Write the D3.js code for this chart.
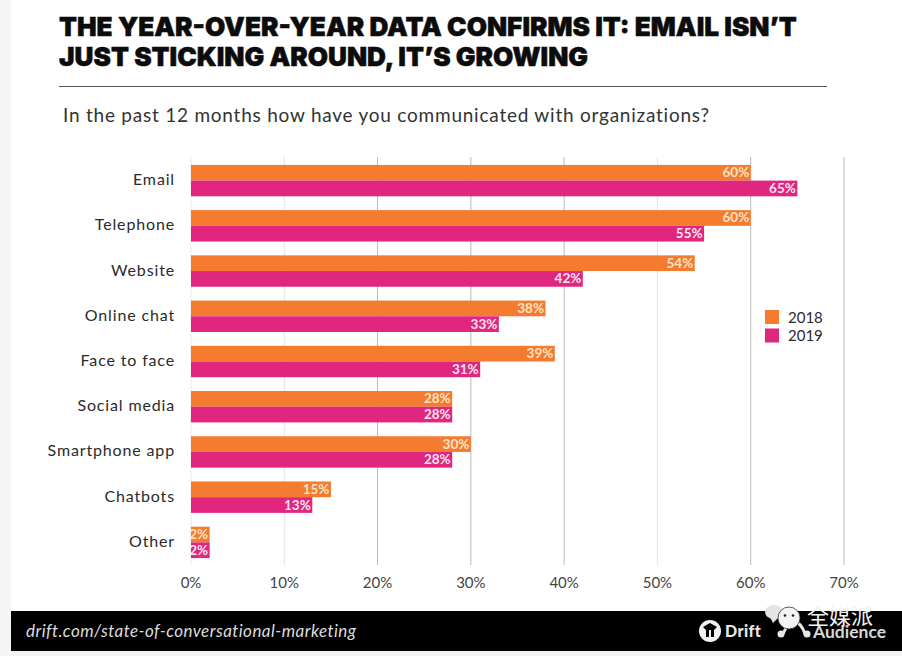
<!DOCTYPE html>
<html>
<head>
<meta charset="utf-8">
<script src="https://cdn.jsdelivr.net/npm/d3@7"></script>
<style>
html, body { margin: 0; padding: 0; background: #fff; }
svg { display: block; }
text { font-family: Lato, "Open Sans", sans-serif; }
</style>
</head>
<body>
<div id="chart"></div>
<script>
var categories = ['Email', 'Telephone', 'Website', 'Online chat', 'Face to face', 'Social media', 'Smartphone app', 'Chatbots', 'Other']
var values2018 = [60, 60, 54, 38, 39, 28, 30, 15, 2]
var values2019 = [65, 55, 42, 33, 31, 28, 28, 13, 2]
var years = ['2018', '2019']
var xTicks = [0, 10, 20, 30, 40, 50, 60, 70]
var titleLines = ['THE YEAR-OVER-YEAR DATA CONFIRMS IT: EMAIL ISN\u2019T', 'JUST STICKING AROUND, IT\u2019S GROWING']
var question = 'In the past 12 months how have you communicated with organizations?'
var sourceUrl = 'drift.com/state-of-conversational-marketing'

var colors = {'2018': '#f47b30', '2019': '#e0267f'}

var svg = d3.select('#chart').append('svg')
	.attr('width', 902)
	.attr('height', 656)

// page edges
svg.append('rect').attr('width', 902).attr('height', 656).attr('fill', '#ffffff')
svg.append('rect').attr('width', 11).attr('height', 656).attr('fill', '#f5f5f5')
svg.append('rect').attr('x', 11).attr('y', 651).attr('width', 891).attr('height', 5).attr('fill', '#f3f3f3')

// heading
svg.selectAll('.title').data(titleLines).enter().append('text')
	.attr('class', 'title')
	.attr('x', 59)
	.attr('y', function(d, i) { return 36 + i * 30 })
	.style('font-family', 'Inter')
	.style('font-weight', 900)
	.style('font-size', '26.2px')
	.attr('fill', '#0c0c0c')
	.attr('stroke', '#0c0c0c')
	.attr('stroke-width', 0.5)
	.text(function(d) { return d })

svg.append('line')
	.attr('x1', 59).attr('x2', 827)
	.attr('y1', 86.5).attr('y2', 86.5)
	.attr('stroke', '#555')
	.attr('stroke-width', 1)

svg.append('text')
	.attr('x', 63)
	.attr('y', 122)
	.style('font-size', '19px')
	.style('letter-spacing', '0.77px')
	.attr('fill', '#333')
	.text(question)

// scales
var x = d3.scaleLinear().domain([0, 70]).range([191, 844])
var y = d3.scaleBand().domain(categories).range([158, 565]).paddingInner(0).paddingOuter(0)
var barH = 15.7

// grid
var grid = svg.append('g')
grid.selectAll('line').data(xTicks).enter().append('line')
	.attr('x1', function(d) { return x(d) })
	.attr('x2', function(d) { return x(d) })
	.attr('y1', 157)
	.attr('y2', 565)
	.attr('stroke', function(d) { return d == 10 || d == 50 ? '#e2e2e2' : (d == 0 ? '#e8e8e8' : '#b9b9b9') })
	.attr('stroke-width', 1)

// bars
var series = [
	{year: '2018', values: values2018, off: -barH},
	{year: '2019', values: values2019, off: 0}
]

series.forEach(function(s) {
	var mid = function(i) { return y(categories[i]) + y.bandwidth() / 2 + s.off }

	svg.append('g').selectAll('rect').data(s.values).enter().append('rect')
		.attr('x', x(0))
		.attr('y', function(d, i) { return mid(i) })
		.attr('width', function(d) { return x(d) - x(0) })
		.attr('height', barH)
		.attr('fill', colors[s.year])

	svg.append('g').selectAll('text').data(s.values).enter().append('text')
		.attr('x', function(d) { return x(d) - 1.5 })
		.attr('y', function(d, i) { return mid(i) + barH / 2 + 4.5 })
		.attr('text-anchor', 'end')
		.style('font-size', '13.5px')
		.style('font-weight', 700)
		.attr('fill', s.year == '2018' ? '#fde3c4' : '#fbe3f0')
		.text(function(d) { return d + '%' })
})

// category labels
svg.append('g').selectAll('text').data(categories).enter().append('text')
	.attr('x', 175)
	.attr('y', function(d) { return y(d) + y.bandwidth() / 2 + 4.5 })
	.attr('text-anchor', 'end')
	.style('font-size', '16px')
	.style('letter-spacing', '0.85px')
	.attr('fill', '#2b2b2b')
	.text(function(d) { return d })

// x axis labels
svg.append('g').selectAll('text').data(xTicks).enter().append('text')
	.attr('x', function(d) { return x(d) })
	.attr('y', 588)
	.attr('text-anchor', 'middle')
	.style('font-size', '15px')
	.attr('fill', '#444')
	.text(function(d) { return d + '%' })

// legend
var legend = svg.append('g').selectAll('g').data(years).enter().append('g')
	.attr('transform', function(d, i) { return 'translate(765,' + (310 + i * 18.5) + ')' })
legend.append('rect')
	.attr('width', 14)
	.attr('height', 14)
	.attr('fill', function(d) { return colors[d] })
legend.append('text')
	.attr('x', 23)
	.attr('y', 12.5)
	.style('font-size', '15px')
	.attr('fill', '#2b2b2b')
	.text(function(d) { return d })

// footer
svg.append('rect').attr('x', 11).attr('y', 611).attr('width', 891).attr('height', 40).attr('fill', '#000')

svg.append('text')
	.attr('x', 26)
	.attr('y', 637)
	.style('font-size', '17px')
	.style('letter-spacing', '0.45px')
	.style('font-style', 'italic')
	.attr('fill', '#dcdcdc')
	.text(sourceUrl)

// drift logo
var drift = svg.append('g')
drift.append('circle').attr('cx', 710).attr('cy', 631).attr('r', 11).attr('fill', '#f2f2f2')
drift.append('path').attr('d', 'M703 627 L710 623 L717 627 L714 630 L714 637 L706 637 L706 630 Z').attr('fill', '#000')
drift.append('rect').attr('x', 709).attr('y', 630).attr('width', 2).attr('height', 8).attr('fill', '#f2f2f2')
svg.append('text')
	.attr('x', 725).attr('y', 637)
	.style('font-size', '16px').style('font-weight', 900)
	.style('letter-spacing', '0.4px')
	.attr('fill', '#e8e8e8')
	.text('Drift')

// audience logo
var aud = svg.append('g')
aud.append('path')
	.attr('d', 'M783 634 Q788 622 794 622 Q801 622 805 634')
	.attr('fill', 'none').attr('stroke', '#e8e8e8').attr('stroke-width', 3)
aud.selectAll('circle').data([781, 807]).enter().append('circle')
	.attr('cx', function(d) { return d })
	.attr('cy', 634)
	.attr('r', 3.5)
	.attr('fill', '#e8e8e8')
svg.append('text')
	.attr('x', 813).attr('y', 638)
	.style('font-size', '17.5px').style('font-weight', 700)
	.attr('fill', '#d8d8d8')
	.text('Audience')

// wechat watermark
var wm = svg.append('g')
wm.append('ellipse').attr('cx', 774).attr('cy', 612).attr('rx', 9).attr('ry', 7).attr('fill', '#e4e4e4')
wm.append('path').attr('d', 'M770 617 L778 618 L773 623 Z').attr('fill', '#e4e4e4')
wm.append('circle').attr('cx', 789).attr('cy', 618).attr('r', 11).attr('fill', '#f4f4f4').attr('stroke', '#333').attr('stroke-width', 0.8)
wm.selectAll('.eye').data([785, 793]).enter().append('circle')
	.attr('class', 'eye')
	.attr('cx', function(d) { return d })
	.attr('cy', 615.5)
	.attr('r', 1.3)
	.attr('fill', '#222')
svg.append('text')
	.attr('x', 807).attr('y', 624)
	.style('font-family', '"Noto Sans CJK SC"')
	.style('font-size', '22px')
	.attr('fill', '#f4f4f4')
	.text('全媒派')
</script>
</body>
</html>
